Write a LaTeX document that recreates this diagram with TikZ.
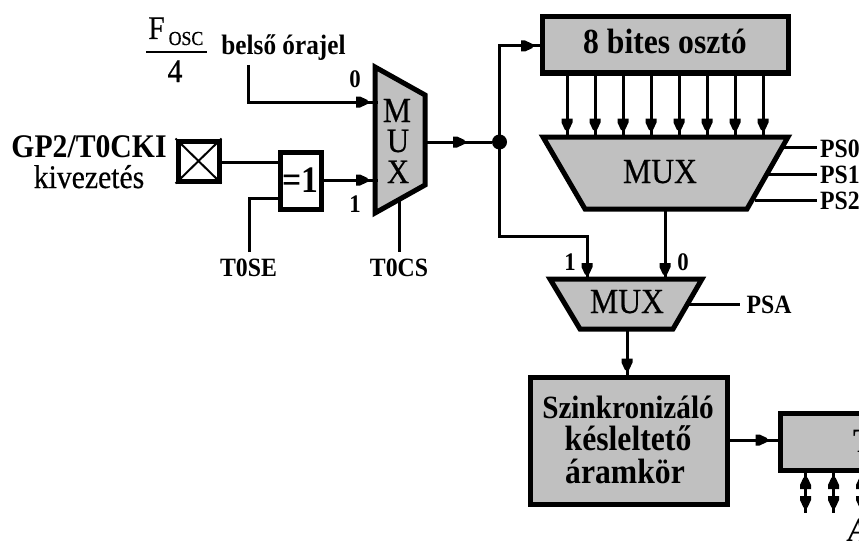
\documentclass[tikz,border=0pt]{standalone}
\usepackage{fontspec}
\setmainfont{Liberation Serif}[FakeStretch=0.9]
\newfontfamily\medfont{Liberation Serif}[FakeStretch=0.9,FakeBold=0.5]
\usetikzlibrary{decorations.markings}
\newcommand{\fs}[1]{\pgfmathsetmacro\fsq{#1*1.1}\fontsize{\fsq}{\fsq}\selectfont}
\tikzset{
  wire/.style={line width=3pt},
  blockbox/.style={draw=black,line width=5pt,fill=muxgray,inner sep=0pt},
  whitebox/.style={draw=black,line width=5pt,fill=white,inner sep=0pt},
  muxshape/.style={draw=black,line width=5pt,fill=muxgray,line join=miter},
  lbl/.style={anchor=base,inner sep=0pt,text=black},
  headat/.style={postaction={decorate},decoration={markings,mark=at position #1 with {\fill[black] (-6pt,-5.5pt) -- (-2pt,-5.5pt) -- (5.5pt,-2pt) -- (5.5pt,2pt) -- (-2pt,5.5pt) -- (-6pt,5.5pt) -- cycle;}}},
  twoheads/.style={postaction={decorate},decoration={markings,
    mark=at position 13pt with {\fill[black] (6pt,-5.5pt) -- (2pt,-5.5pt) -- (-5.5pt,-2pt) -- (-5.5pt,2pt) -- (2pt,5.5pt) -- (6pt,5.5pt) -- cycle;},
    mark=at position 32pt with {\fill[black] (-6pt,-5.5pt) -- (-2pt,-5.5pt) -- (5.5pt,-2pt) -- (5.5pt,2pt) -- (-2pt,5.5pt) -- (-6pt,5.5pt) -- cycle;}}},
}
\definecolor{muxgray}{HTML}{C0C0C0}
\begin{document}
\begin{tikzpicture}[x=1pt,y=-1pt]
\clip (0,0) rectangle (859,543);
\fill[white] (0,0) rectangle (859,543);

% blocks
\node[whitebox,minimum width=41pt,minimum height=40pt] (pin) at (198.5,161) {};
\draw[line width=2pt] (pin.north west) -- (pin.south east) (pin.north east) -- (pin.south west);
\node[whitebox,minimum width=41pt,minimum height=57pt] (xorg) at (300.5,180.5) {};
\node[blockbox,minimum width=246pt,minimum height=56pt] (div) at (665.5,45) {};
\node[blockbox,minimum width=197pt,minimum height=127pt] (sync) at (628.5,440.5) {};
\node[blockbox,minimum width=140pt,minimum height=57pt] (tmr) at (850,441.5) {};

% multiplexers
\draw[muxshape] (375,67) -- (425,95) -- (425,185) -- (375,213) -- cycle;
\draw[muxshape] (543,137) -- (788,137) -- (747,209) -- (585,209) -- cycle;
\draw[muxshape] (550,279) -- (702,279) -- (673,329) -- (580,329) -- cycle;

% ports and junction
\coordinate (m1a) at (378,102);
\coordinate (m1b) at (378,180);
\coordinate (m1o) at (423,142);
\coordinate (m1s) at (399,198);
\node[circle,fill=black,minimum size=15pt,inner sep=0pt] (dot) at (499.5,142) {};
\coordinate (m3a) at (587,279);
\coordinate (m3b) at (665,279);
\coordinate (m2o) at (665,209);
\coordinate (m3o) at (627,329);
\coordinate (osc) at (248.5,65);
\coordinate (osc2) at (248.5,102);
\coordinate (se) at (249,252);
\coordinate (se2) at (249,198);
\coordinate (cs) at (399,252);
\coordinate (up) at (499.5,46);
\coordinate (dn) at (499.5,236);
\coordinate (dn2) at (587,236);
\coordinate (ps0a) at (783,147);
\coordinate (ps0b) at (817,147);
\coordinate (ps1a) at (767,174);
\coordinate (ps1b) at (817,174);
\coordinate (ps2a) at (755,200);
\coordinate (ps2b) at (817,200);
\coordinate (psaa) at (687,304);
\coordinate (psab) at (740,304);

% connectors
\draw[wire,headat=-16pt] (osc) -- (osc2) -- (m1a);
\draw[wire] (pin.east |- 0,162) -- (xorg.west |- 0,162);
\draw[wire] (se) -- (se2) -- (xorg.west |- se2);
\draw[wire,headat=-16pt] (xorg.east |- m1b) -- (m1b);
\draw[wire] (m1s) -- (cs);
\draw[wire,headat=36pt] (m1o) -- (dot);
\draw[wire,headat=-13pt] (dot.center) -- (up) -- (div.west |- up);
\draw[wire,headat=-10pt] (dot.center) -- (dn) -- (dn2) -- (m3a);
\draw[wire,headat=-10pt] (m2o) -- (m3b);
\draw[wire,headat=-10pt] (m3o) -- (sync.north -| m3o);
\draw[wire,headat=-16pt] (sync.east |- 0,440) -- (tmr.west |- 0,440);
\foreach \i/\x in {1/567,2/595,3/623,4/651,5/679,6/707,7/735,8/763}{
  \coordinate (da\i) at (\x,73);
  \coordinate (mb\i) at (\x,137);
  \draw[wire,headat=-12.5pt] (da\i) -- (mb\i);
}
\foreach \i/\x in {1/805.5,2/833.5,3/861.5}{
  \coordinate (ta\i) at (\x,470);
  \coordinate (tb\i) at (\x,513);
  \draw[wire,twoheads] (ta\i) -- (tb\i);
}
\draw[wire] (ps0a) -- (ps0b);
\draw[wire] (ps1a) -- (ps1b);
\draw[wire] (ps2a) -- (ps2b);
\draw[wire] (psaa) -- (psab);

% fraction
\coordinate (fa) at (146,52);
\coordinate (fb) at (207,52);
\draw[line width=2.5pt] (fa) -- (fb);
\node[lbl] (lF) at (156.5,39) {\fs{30}\medfont F};
\node[lbl] (lO) at (186,45) {\fs{18}\medfont OSC};
\node[lbl] (l4) at (175,82) {\fs{30}\medfont 4};
\node[lbl] (lint) at (283.5,55) {\fs{25.5}\bfseries belső órajel};

% pin labels
\node[lbl] (lgp) at (89,157) {\fs{30}\bfseries GP2/T0CKI};
\node[lbl] (lki) at (89,188) {\fs{30}\medfont kivezetés};
\node[lbl] (lxr) at (300.5,192) {\fs{34}\bfseries =1};
\node[lbl] (l0a) at (355,88) {\fs{23}\bfseries 0};
\node[lbl] (l1a) at (355,212) {\fs{23}\bfseries 1};
\node[lbl] (lse) at (248.5,276) {\fs{24}\bfseries T0SE};
\node[lbl] (lcs) at (399,276) {\fs{24}\bfseries T0CS};
\node[lbl] (lM) at (397,122) {\fs{32}\medfont M};
\node[lbl] (lU) at (398,152) {\fs{31}\medfont U};
\node[lbl] (lX) at (398,183) {\fs{31}\medfont X};

% right part labels
\node[lbl] (ldv) at (665,54) {\fs{32}\bfseries 8 bites osztó};
\node[lbl] (lm2) at (660,183) {\fs{32}\medfont MUX};
\node[lbl] (lm3) at (627,313) {\fs{32}\medfont MUX};
\node[lbl,anchor=base west] (lp0) at (820,157) {\fs{24}\bfseries PS0};
\node[lbl,anchor=base west] (lp1) at (820,183) {\fs{24}\bfseries PS1};
\node[lbl,anchor=base west] (lp2) at (820,209) {\fs{24}\bfseries PS2};
\node[lbl] (l1b) at (570,270) {\fs{23}\bfseries 1};
\node[lbl] (l0b) at (683,270) {\fs{23}\bfseries 0};
\node[lbl] (lpa) at (769,313) {\fs{24}\bfseries PSA};
\node[lbl] (ls1) at (628,418) {\fs{29.5}\bfseries Szinkronizáló};
\node[lbl] (ls2) at (628,450) {\fs{32}\bfseries késleltető};
\node[lbl] (ls3) at (625,483) {\fs{32}\bfseries áramkör};
\node[lbl,anchor=base west] (ltm) at (853,452) {\fs{31}\bfseries T};
\node[lbl,anchor=base west] (lA) at (848,541) {\fs{31}\bfseries\itshape A};
\end{tikzpicture}
\end{document}
